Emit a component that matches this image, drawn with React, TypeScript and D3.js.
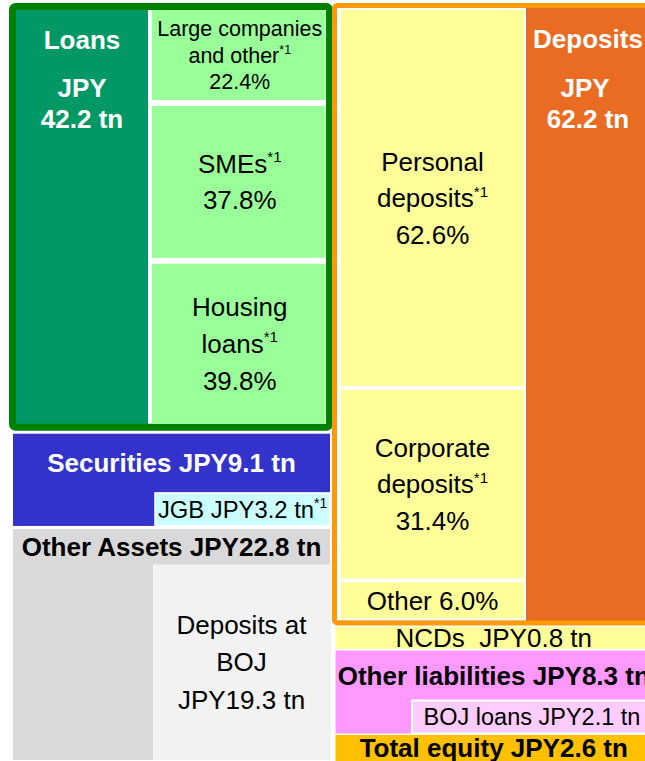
import React from "react";
import * as d3 from "d3";

// ---------------- Data ----------------
// Assets (JPY tn)
const assetNames = ["Loans", "Securities", "Other Assets"];
const assetValues = [42.2, 9.1, 22.8];

// Loan breakdown (% of loans)
const loanSegmentLines = [
  ["Large companies", "and other*"],
  ["SMEs*"],
  ["Housing", "loans*"],
];
const loanShares = [22.4, 37.8, 39.8];

// Sub items of assets (JPY tn)
const jgbValue = 3.2;
const bojDepositValue = 19.3;

// Liabilities & equity (JPY tn)
const liabilityNames = ["Deposits", "NCDs", "Other liabilities", "Total equity"];
const liabilityValues = [62.2, 0.8, 8.3, 2.6];

// Deposit breakdown (% of deposits)
const depositSegmentLines = [
  ["Personal", "deposits*"],
  ["Corporate", "deposits*"],
  [],
];
const depositShares = [62.6, 31.4, 6.0];

// Sub item of other liabilities (JPY tn)
const bojLoanValue = 2.1;

// ---------------- Layout / style ----------------
const W = 645;
const H = 761;
const FONT = "'Liberation Sans', Arial, Helvetica, sans-serif";
const MIN_DISPLAY = 2.2; // minimum displayed size so small items can hold a label
const SUB_MIN_H = 33;

type Seg = { y0: number; y1: number };

function stackLayout(values: number[], top: number, bottom: number, gap: number): Seg[] {
  const total = d3.sum(values);
  const y = d3
    .scaleLinear()
    .domain([0, total])
    .range([top, bottom - gap * (values.length - 1)]);
  let acc = 0;
  return values.map((v, i) => {
    const y0 = y(acc) + gap * i;
    acc += v;
    const y1 = y(acc) + gap * i;
    return { y0, y1 };
  });
}

function subHeight(parent: Seg, parentValue: number, value: number) {
  const s = d3.scaleLinear().domain([0, parentValue]).range([0, parent.y1 - parent.y0]);
  return Math.max(s(value), SUB_MIN_H);
}

type Line = { t: string; sup?: boolean };

function toLine(s: string): Line {
  if (s.endsWith("*")) return { t: s.slice(0, -1), sup: true };
  return { t: s };
}

function TextBlock({
  x,
  cy,
  lines,
  size,
  weight = "normal",
  fill = "#000",
  spacing = 37,
}: {
  x: number;
  cy: number;
  lines: Line[];
  size: number;
  weight?: string;
  fill?: string;
  spacing?: number;
}) {
  const n = lines.length;
  return (
    <text
      textAnchor="middle"
      fontFamily={FONT}
      fontSize={size}
      fontWeight={weight}
      fill={fill}
      style={{ whiteSpace: "pre" }}
    >
      {lines.map((ln, i) => {
        const base = cy + size * 0.35 + (i - (n - 1) / 2) * spacing;
        return (
          <tspan key={i} x={x} y={base}>
            {ln.t}
            {ln.sup ? (
              <tspan fontSize={size * 0.58} dy={-size * 0.4}>
                *1
              </tspan>
            ) : null}
          </tspan>
        );
      })}
    </text>
  );
}

export default function App() {
  // ----- Left column (assets)
  const L_X0 = 13;
  const L_X1 = 330;
  const left = stackLayout(assetValues, 3, 760, 3);
  const [loansS, secS, othS] = left;

  const loansBorder = 7;
  const loansOuterX0 = 9;
  const loansOuterX1 = 333;
  const darkX1 = 148;
  const lightX0 = 152;
  const lightX1 = 325.5;
  const loansInTop = loansS.y0 + loansBorder;
  const loansInBot = loansS.y1 - loansBorder;
  const loanCells = stackLayout(loanShares, loansInTop, loansInBot, 6);

  const jgbH = subHeight(secS, assetValues[1], jgbValue);
  const jgbX0 = 155;
  const jgbY0 = secS.y1 - jgbH;

  const bojDepH = subHeight(othS, assetValues[2], bojDepositValue);
  const bojDepX0 = 153;
  const bojDepY0 = othS.y1 - bojDepH;

  // ----- Right column (liabilities)
  const R_X0 = 335.5;
  const R_X1 = 652;
  const rightDisplay = liabilityValues.map((v) => Math.max(v, MIN_DISPLAY));
  const right = stackLayout(rightDisplay, 3, 761, 1.5);
  const [depS, ncdS, olS, eqS] = right;

  const depBorder = 5;
  const depOuterX0 = 332;
  const yellowX0 = 341;
  const yellowX1 = 524;
  const depCells = stackLayout(depositShares, depS.y0 + 7, depS.y1 - 7, 4);

  const bojLoanH = subHeight(olS, liabilityValues[2], bojLoanValue);
  const bojLoanX0 = 412;
  const bojLoanY0 = olS.y1 - bojLoanH;

  const rCx = (R_X0 + R_X1) / 2;
  const lCx = (L_X0 + L_X1) / 2;

  const fmt = (v: number) => v.toFixed(1);

  return (
    <svg
      width={W}
      height={H}
      viewBox={`0 0 ${W} ${H}`}
      style={{ position: "fixed", left: 0, top: 0, background: "#fff" }}
    >
      {/* ===== Loans ===== */}
      <rect
        x={loansOuterX0 + loansBorder / 2}
        y={loansS.y0 + loansBorder / 2}
        width={loansOuterX1 - loansOuterX0 - loansBorder}
        height={loansS.y1 - loansS.y0 - loansBorder}
        rx={3}
        fill="#009966"
        stroke="#008000"
        strokeWidth={loansBorder}
      />
      <rect
        x={darkX1}
        y={loansInTop}
        width={loansOuterX1 - loansBorder - darkX1}
        height={loansInBot - loansInTop}
        fill="#fff"
      />
      {loanCells.map((c, i) => (
        <rect
          key={i}
          x={lightX0}
          y={c.y0}
          width={lightX1 - lightX0}
          height={c.y1 - c.y0}
          fill="#99FF99"
        />
      ))}
      {loanCells.map((c, i) => {
        const lines = [...loanSegmentLines[i].map(toLine), { t: `${fmt(loanShares[i])}%` }];
        const small = i === 0;
        return (
          <TextBlock
            key={i}
            x={(lightX0 + lightX1) / 2 + 1}
            cy={(c.y0 + c.y1) / 2}
            lines={lines}
            size={small ? 21.5 : 26}
            spacing={small ? 26.7 : 36.7}
          />
        );
      })}
      <text
        textAnchor="middle"
        fontFamily={FONT}
        fontWeight="bold"
        fontSize={26}
        fill="#fff"
      >
        <tspan x={(loansOuterX0 + loansBorder + darkX1) / 2} y={loansS.y0 + 46}>
          {assetNames[0]}
        </tspan>
        <tspan x={(loansOuterX0 + loansBorder + darkX1) / 2} y={loansS.y0 + 94}>
          JPY
        </tspan>
        <tspan x={(loansOuterX0 + loansBorder + darkX1) / 2} y={loansS.y0 + 125}>
          {`${fmt(assetValues[0])} tn`}
        </tspan>
      </text>

      {/* ===== Securities ===== */}
      <rect x={L_X0} y={secS.y0} width={L_X1 - L_X0} height={secS.y1 - secS.y0} fill="#3333CC" />
      <rect
        x={jgbX0}
        y={jgbY0}
        width={L_X1 - jgbX0}
        height={jgbH}
        fill="#CCFFFF"
        stroke="#fff"
        strokeWidth={1.5}
      />
      <TextBlock
        x={lCx}
        cy={(secS.y0 + jgbY0) / 2}
        lines={[{ t: `${assetNames[1]} JPY${fmt(assetValues[1])} tn` }]}
        size={26}
        weight="bold"
        fill="#fff"
      />
      <TextBlock
        x={(jgbX0 + L_X1) / 2}
        cy={jgbY0 + jgbH / 2}
        lines={[{ t: `JGB JPY${fmt(jgbValue)} tn`, sup: true }]}
        size={23.8}
      />

      {/* ===== Other Assets ===== */}
      <rect x={L_X0} y={othS.y0} width={L_X1 - L_X0} height={othS.y1 - othS.y0} fill="#D9D9D9" />
      <rect
        x={bojDepX0}
        y={bojDepY0}
        width={L_X1 + 1 - bojDepX0}
        height={bojDepH}
        fill="#F2F2F2"
      />
      <TextBlock
        x={lCx}
        cy={(othS.y0 + bojDepY0) / 2}
        lines={[{ t: `${assetNames[2]} JPY${fmt(assetValues[2])} tn` }]}
        size={26}
        weight="bold"
      />
      <TextBlock
        x={(bojDepX0 + L_X1) / 2}
        cy={bojDepY0 + bojDepH / 2}
        lines={[{ t: "Deposits at" }, { t: "BOJ" }, { t: `JPY${fmt(bojDepositValue)} tn` }]}
        size={26}
        spacing={37.5}
      />

      {/* ===== Deposits ===== */}
      <rect
        x={depOuterX0 + depBorder / 2}
        y={depS.y0 + depBorder / 2}
        width={R_X1 - depOuterX0 - depBorder}
        height={depS.y1 - depS.y0 - depBorder}
        rx={3}
        fill="#EA6C22"
        stroke="#FF9900"
        strokeWidth={depBorder}
      />
      <rect
        x={depOuterX0 + depBorder}
        y={depS.y0 + depBorder}
        width={yellowX1 + 2 - depOuterX0 - depBorder}
        height={depS.y1 - depS.y0 - 2 * depBorder}
        fill="#fff"
      />
      {depCells.map((c, i) => (
        <rect
          key={i}
          x={yellowX0}
          y={c.y0}
          width={yellowX1 - yellowX0}
          height={c.y1 - c.y0}
          fill="#FFFF99"
        />
      ))}
      {depCells.map((c, i) => {
        const lines =
          depositSegmentLines[i].length > 0
            ? [...depositSegmentLines[i].map(toLine), { t: `${fmt(depositShares[i])}%` }]
            : [{ t: `Other ${fmt(depositShares[i])}%` }];
        return (
          <TextBlock
            key={i}
            x={(yellowX0 + yellowX1) / 2}
            cy={(c.y0 + c.y1) / 2}
            lines={lines}
            size={26}
            spacing={36.5}
          />
        );
      })}
      <text textAnchor="middle" fontFamily={FONT} fontWeight="bold" fontSize={26} fill="#fff">
        <tspan x={588} y={depS.y0 + 45}>
          {liabilityNames[0]}
        </tspan>
        <tspan x={585} y={depS.y0 + 94}>
          JPY
        </tspan>
        <tspan x={588} y={depS.y0 + 125}>
          {`${fmt(liabilityValues[0])} tn`}
        </tspan>
      </text>

      {/* ===== NCDs ===== */}
      <rect x={R_X0} y={ncdS.y0} width={R_X1 - R_X0} height={ncdS.y1 - ncdS.y0} fill="#FFFF99" />
      <TextBlock
        x={rCx}
        cy={(ncdS.y0 + ncdS.y1) / 2}
        lines={[{ t: `${liabilityNames[1]}  JPY${fmt(liabilityValues[1])} tn` }]}
        size={26}
      />

      {/* ===== Other liabilities ===== */}
      <rect x={R_X0} y={olS.y0} width={R_X1 - R_X0} height={olS.y1 - olS.y0} fill="#FF99FF" />
      <rect
        x={bojLoanX0}
        y={bojLoanY0}
        width={R_X1 - bojLoanX0}
        height={bojLoanH}
        fill="#FFCCFF"
        stroke="#fff"
        strokeWidth={2}
      />
      <TextBlock
        x={rCx}
        cy={(olS.y0 + bojLoanY0) / 2}
        lines={[{ t: `${liabilityNames[2]} JPY${fmt(liabilityValues[2])} tn` }]}
        size={26}
        weight="bold"
      />
      <TextBlock
        x={(bojLoanX0 + R_X1) / 2}
        cy={bojLoanY0 + bojLoanH / 2}
        lines={[{ t: `BOJ loans JPY${fmt(bojLoanValue)} tn` }]}
        size={23.5}
      />

      {/* ===== Total equity ===== */}
      <rect x={R_X0} y={eqS.y0} width={R_X1 - R_X0} height={eqS.y1 - eqS.y0} fill="#FFC000" />
      <TextBlock
        x={rCx}
        cy={(eqS.y0 + eqS.y1) / 2}
        lines={[{ t: `${liabilityNames[3]} JPY${fmt(liabilityValues[3])} tn` }]}
        size={26}
        weight="bold"
      />
    </svg>
  );
}
